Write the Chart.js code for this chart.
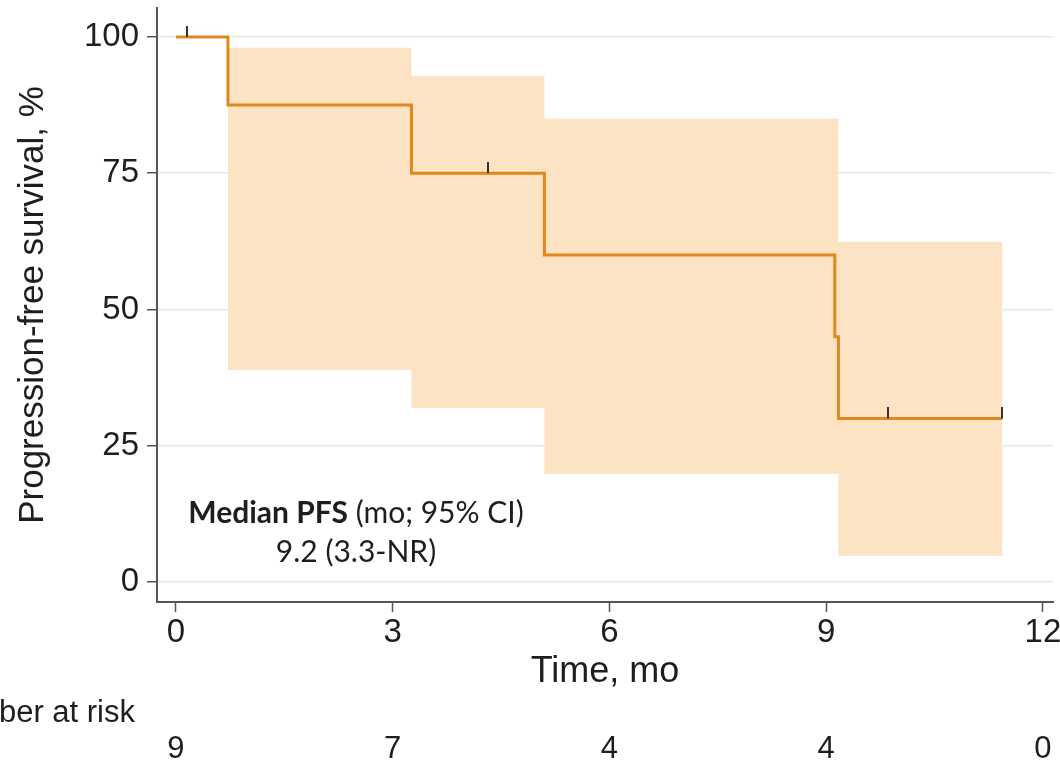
<!DOCTYPE html>
<html>
<head>
<meta charset="utf-8">
<script src="https://cdn.jsdelivr.net/npm/chart.js@4/dist/chart.umd.min.js"></script>
<style>
  html, body { margin: 0; padding: 0; background: #fff; }
  #wrap { width: 1060px; height: 765px; }
</style>
</head>
<body>
<div id="wrap"><canvas id="pfsChart" width="1060" height="765"></canvas></div>
<script>
// Kaplan-Meier estimate (step points)
const timePoints = [0, 0.72, 3.26, 5.1, 9.12, 9.17, 11.44];
const survival = [100, 87.5, 75, 60, 45, 30, 30];

// 95% CI band
const ciTimes = [0.72, 3.26, 5.1, 9.17, 11.44];
const ciUpper = [98, 92.8, 85, 62.4, 62.4];
const ciLower = [38.9, 31.9, 19.8, 4.8, 4.8];

// censored observations
const censorTimes = [0.15, 4.32, 9.85, 11.44];
const censorSurvival = [100, 75, 30, 30];

// number at risk
const riskTimes = [0, 3, 6, 9, 12];
const atRisk = [9, 7, 4, 4, 0];

const xTicks = [0, 3, 6, 9, 12];
const yTicks = [0, 25, 50, 75, 100];

const lineColor = '#E0881E';
const bandColor = '#FBE3C4';
const axisColor = '#555555';
const textColor = '#1e1e1e';
const sansFont = '"Liberation Sans", Arial, sans-serif';
const noteFont = 'Lato, "Open Sans", sans-serif';

function toPoints(xs, ys) {
    return xs.map((x, i) => ({ x: x, y: ys[i] }));
}

function makeCensorMark() {
    const c = document.createElement('canvas');
    c.width = 2;
    c.height = 22;
    const g = c.getContext('2d');
    g.fillStyle = '#333333';
    g.fillRect(0, 0, 2, 11);
    return c;
}

const annotationPlugin = {
    id: 'kmText',
    afterDraw(chart) {
        const ctx = chart.ctx;
        const xScale = chart.scales.x;
        ctx.save();

        // median PFS note
        ctx.fillStyle = textColor;
        ctx.textBaseline = 'alphabetic';
        const boldPart = 'Median PFS';
        const restPart = ' (mo; 95% CI)';
        ctx.font = 'bold 30px ' + noteFont;
        const wBold = ctx.measureText(boldPart).width;
        ctx.font = '30px ' + noteFont;
        const wRest = ctx.measureText(restPart).width;
        const cx = 356;
        const x0 = cx - (wBold + wRest) / 2;
        ctx.textAlign = 'left';
        ctx.font = 'bold 30px ' + noteFont;
        ctx.fillText(boldPart, x0, 523);
        ctx.font = '30px ' + noteFont;
        ctx.fillText(restPart, x0 + wBold, 523);
        ctx.textAlign = 'center';
        ctx.fillText('9.2 (3.3-NR)', cx, 562);

        // number at risk
        ctx.font = '31px ' + sansFont;
        ctx.textAlign = 'right';
        ctx.textBaseline = 'middle';
        ctx.fillText('Number at risk', 135, 713);
        ctx.textAlign = 'center';
        riskTimes.forEach((t, i) => {
            ctx.fillText(String(atRisk[i]), xScale.getPixelForValue(t), 749);
        });
        ctx.restore();
    }
};

const ctx = document.getElementById('pfsChart').getContext('2d');
const pfsChart = new Chart(ctx, {
    type: 'line',
    data: {
        datasets: [
            {
                label: 'CI upper',
                data: toPoints(ciTimes, ciUpper),
                stepped: 'before',
                borderWidth: 0,
                pointRadius: 0,
                backgroundColor: bandColor,
                fill: '+1',
                order: 2
            },
            {
                label: 'CI lower',
                data: toPoints(ciTimes, ciLower),
                stepped: 'before',
                borderWidth: 0,
                pointRadius: 0,
                fill: false,
                order: 3
            },
            {
                label: 'PFS',
                data: toPoints(timePoints, survival),
                stepped: 'before',
                borderColor: lineColor,
                borderWidth: 3,
                pointRadius: 0,
                fill: false,
                order: 1
            },
            {
                label: 'Censored',
                data: toPoints(censorTimes, censorSurvival),
                showLine: false,
                pointStyle: makeCensorMark(),
                pointRadius: 6,
                order: 0
            }
        ]
    },
    options: {
        responsive: false,
        animation: false,
        layout: { padding: { top: 8, right: 5, left: 0, bottom: 0 } },
        plugins: {
            legend: { display: false },
            tooltip: { enabled: false }
        },
        scales: {
            x: {
                type: 'linear',
                min: -0.262,
                max: 12.14,
                afterBuildTicks: function (scale) {
                    scale.ticks = xTicks.map(v => ({ value: v }));
                },
                afterFit: function (scale) {
                    scale.height = 163;
                    scale.paddingLeft = 0;
                    scale.paddingRight = 0;
                },
                border: { display: true, color: axisColor, width: 2 },
                grid: {
                    drawOnChartArea: false,
                    drawTicks: true,
                    tickLength: 10,
                    tickColor: axisColor,
                    tickWidth: 1.5
                },
                ticks: {
                    color: textColor,
                    padding: 1,
                    maxRotation: 0,
                    font: { family: sansFont, size: 33 }
                },
                title: {
                    display: true,
                    text: 'Time, mo',
                    color: textColor,
                    font: { family: sansFont, size: 36 },
                    padding: { top: 0, bottom: 71 }
                }
            },
            y: {
                min: -3.67,
                max: 105.3,
                afterBuildTicks: function (scale) {
                    scale.ticks = yTicks.map(v => ({ value: v }));
                },
                afterFit: function (scale) {
                    scale.width = 157;
                    scale.paddingTop = 0;
                    scale.paddingBottom = 0;
                },
                border: { display: true, color: axisColor, width: 2 },
                grid: {
                    drawOnChartArea: true,
                    color: '#E4E9EC',
                    lineWidth: 1.5,
                    drawTicks: true,
                    tickLength: 10,
                    tickColor: axisColor,
                    tickWidth: 1.5
                },
                ticks: {
                    color: textColor,
                    padding: 8,
                    font: { family: sansFont, size: 33 }
                },
                title: {
                    display: true,
                    text: 'Progression-free survival, %',
                    color: textColor,
                    font: { family: sansFont, size: 35 },
                    padding: { top: 12, bottom: 0 }
                }
            }
        }
    },
    plugins: [annotationPlugin]
});
</script>
</body>
</html>
